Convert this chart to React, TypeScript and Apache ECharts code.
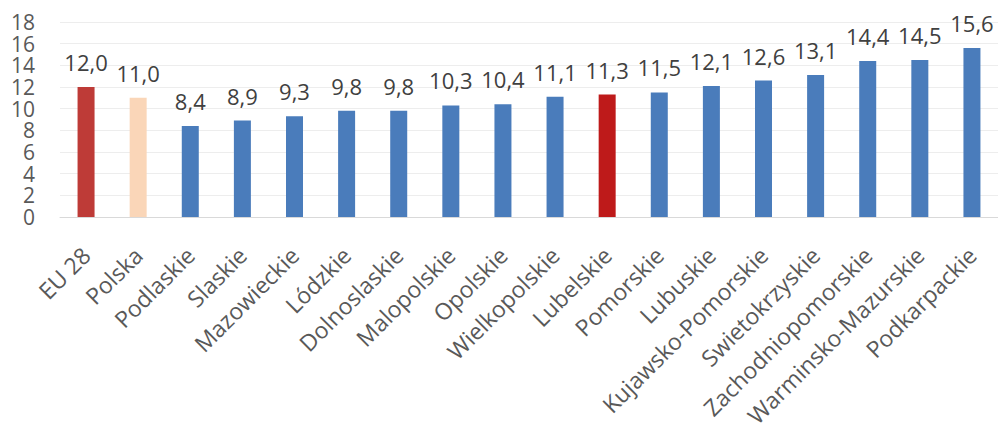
import React, { useEffect, useRef } from "react";
import * as echarts from "echarts";

const categories = [
  "EU 28", "Polska", "Podlaskie", "Slaskie", "Mazowieckie", "Lódzkie", "Dolnoslaskie",
  "Malopolskie", "Opolskie", "Wielkopolskie", "Lubelskie", "Pomorskie", "Lubuskie",
  "Kujawsko-Pomorskie", "Swietokrzyskie", "Zachodniopomorskie", "Warminsko-Mazurskie", "Podkarpackie",
];
const values = [12.0, 11.0, 8.4, 8.9, 9.3, 9.8, 9.8, 10.3, 10.4, 11.1, 11.3, 11.5, 12.1, 12.6, 13.1, 14.4, 14.5, 15.6];
const barColors = [
  "#BE3B37", "#FAD6B8", "#4A7CBB", "#4A7CBB", "#4A7CBB", "#4A7CBB", "#4A7CBB", "#4A7CBB", "#4A7CBB",
  "#4A7CBB", "#BE1A1A", "#4A7CBB", "#4A7CBB", "#4A7CBB", "#4A7CBB", "#4A7CBB", "#4A7CBB", "#4A7CBB",
];
const yTicks = { min: 0, max: 18, interval: 2 };

export default function App() {
  const ref = useRef<HTMLDivElement>(null);
  useEffect(() => {
    document.body.style.margin = "0";
    const chart = echarts.init(ref.current!, null, { renderer: "svg" });
    const font = "'Open Sans', 'Noto Sans', sans-serif";
    chart.setOption({
      animation: false,
      grid: { left: 60, right: 0, top: 22, bottom: 206, containLabel: false, outerBoundsMode: "none" },
      xAxis: {
        type: "category",
        data: categories,
        axisLine: { lineStyle: { color: "#D9D9D9", width: 1 } },
        axisTick: { show: false },
        axisLabel: {
          rotate: 45,
          interval: 0,
          margin: 34,
          color: "#595959",
          fontSize: 23,
          fontFamily: font,
        },
      },
      yAxis: {
        type: "value",
        min: yTicks.min,
        max: yTicks.max,
        interval: yTicks.interval,
        axisLine: { show: false },
        axisTick: { show: false },
        splitLine: { lineStyle: { color: "#EDEDED", width: 1 } },
        axisLabel: {
          margin: 25,
          color: "#595959",
          fontSize: 21,
          lineHeight: 18,
          fontFamily: font,
          showMinLabel: true,
          showMaxLabel: true,
        },
      },
      series: [
        {
          type: "bar",
          barWidth: 17,
          data: values.map((v, i) => ({ value: v, itemStyle: { color: barColors[i] } })),
          label: {
            show: true,
            position: "top",
            distance: 14,
            color: "#404040",
            fontSize: 22,
            lineHeight: 22,
            fontFamily: font,
            formatter: (p: any) => p.value.toFixed(1).replace(".", ","),
          },
        },
      ],
    });
    return () => chart.dispose();
  }, []);
  return <div ref={ref} style={{ width: 998, height: 423 }} />;
}
